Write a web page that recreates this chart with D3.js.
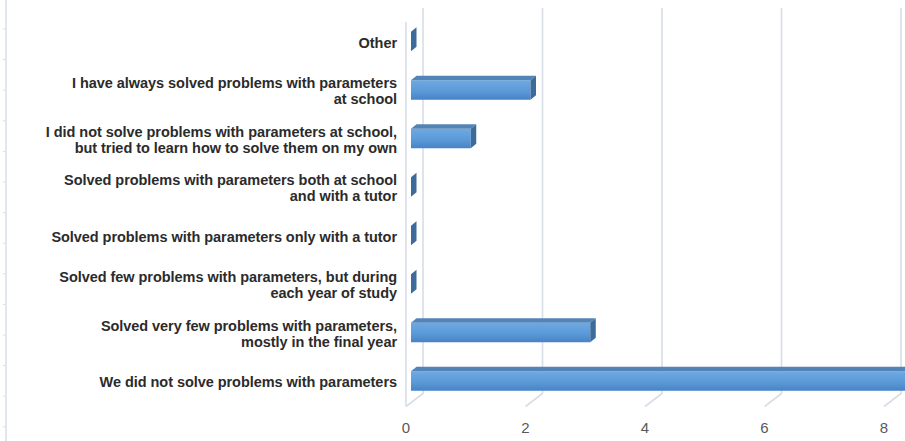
<!DOCTYPE html>
<html>
<head>
<meta charset="utf-8">
<script src="https://cdn.jsdelivr.net/npm/d3@7"></script>
<style>
  body { margin: 0; background: #fff; }
  text { font-family: "Liberation Sans", Arial, sans-serif; }
</style>
</head>
<body>
<div id="chart"></div>
<script>
// categories, top to bottom, each split into its label lines
let categories = [
    ["Other"],
    ["I have always solved problems with parameters", "at school"],
    ["I did not solve problems with parameters at school,", "but tried to learn how to solve  them on my own"],
    ["Solved problems with parameters both at school", "and with a tutor"],
    ["Solved problems with parameters only with a tutor"],
    ["Solved few problems with parameters, but during", "each year of study"],
    ["Solved very few problems with parameters,", "mostly in the final year"],
    ["We did not solve problems with parameters"]
];
let values = [0, 2, 1, 0, 0, 0, 3, 9];
let ticks = [0, 2, 4, 6, 8];

let W = 905, H = 441;
let svg = d3.select("#chart")
    .append("svg")
    .attr("width", W)
    .attr("height", H);

// front floor scale, the back wall is shifted by (dx, dy)
let x = d3.scaleLinear().domain([0, 8]).range([406, 884]);
let wallDx = 17, wallDy = -13;
let y = d3.scaleBand()
    .domain(d3.range(categories.length))
    .range([17.25, 405.25])
    .padding(0);

let gridColor = "#d8dee8";

// left border line with small ticks
svg.append("line")
    .attr("x1", 6).attr("x2", 6).attr("y1", 0).attr("y2", H)
    .attr("stroke", gridColor).attr("stroke-width", 1.5);
d3.range(29, H, 30.6).forEach(t =>
    svg.append("line")
    .attr("x1", 3).attr("x2", 6).attr("y1", t).attr("y2", t)
    .attr("stroke", gridColor)
);

// gradient for bar front face
let defs = svg.append("defs");
let grad = defs.append("linearGradient")
    .attr("id", "barFront")
    .attr("x1", 0).attr("x2", 0).attr("y1", 0).attr("y2", 1);
grad.append("stop").attr("offset", "0%").attr("stop-color", "#6ea9e2");
grad.append("stop").attr("offset", "55%").attr("stop-color", "#5b9ad8");
grad.append("stop").attr("offset", "100%").attr("stop-color", "#4783c6");

// gridlines: back wall verticals plus floor diagonals
let floorY = 406.5, topY = 8;
ticks.forEach(t => {
    let bx = x(t) + wallDx;
    svg.append("path")
        .attr("d", `M${bx},${topY}L${bx},${floorY + wallDy}L${x(t)},${floorY}`)
        .attr("fill", "none")
        .attr("stroke", gridColor)
        .attr("stroke-width", 1.6);
});

// left wall front edge
svg.append("line")
    .attr("x1", x(0)).attr("x2", x(0))
    .attr("y1", 22).attr("y2", floorY)
    .attr("stroke", gridColor).attr("stroke-width", 1.6);

// 3D bars
let bh = 19.5, dx = 5.5, dy = -4.5, bx0 = x(0) + 5;
let unit = x(1) - x(0);

values.forEach((v, i) => {
    let cy = y(i) + y.bandwidth() / 2;
    let top = cy - bh / 2, bot = cy + bh / 2;
    let xr = bx0 + v * unit;
    let g = svg.append("g");
    if (v > 0) {
        // front
        g.append("rect")
            .attr("x", bx0).attr("y", top)
            .attr("width", xr - bx0).attr("height", bh)
            .attr("fill", "url(#barFront)");
        // top face
        g.append("path")
            .attr("d", `M${bx0},${top}L${bx0 + dx},${top + dy}L${xr + dx},${top + dy}L${xr},${top}Z`)
            .attr("fill", "#5384b6");
    }
    // side face
    g.append("path")
        .attr("d", `M${xr},${top}L${xr + dx},${top + dy}L${xr + dx},${bot + dy}L${xr},${bot}Z`)
        .attr("fill", "#3d6b9a");
});

// category labels
categories.forEach((lines, i) => {
    let cy = y(i) + y.bandwidth() / 2 + 1;
    let lh = 16;
    let t = svg.append("text")
        .attr("text-anchor", "end")
        .attr("font-size", 14.5)
        .attr("font-weight", "bold")
        .attr("fill", "#2b2b2b")
        .attr("letter-spacing", -0.05);
    lines.forEach((ln, j) => {
        t.append("tspan")
            .attr("x", 397)
            .attr("y", cy + (j - (lines.length - 1) / 2) * lh)
            .attr("dy", "0.35em")
            .text(ln);
    });
});

// value tick labels
ticks.forEach(t =>
    svg.append("text")
    .attr("x", x(t))
    .attr("y", 428)
    .attr("dy", "0.35em")
    .attr("text-anchor", "middle")
    .attr("font-size", 15)
    .attr("fill", "#595959")
    .text(t)
);
</script>
</body>
</html>
